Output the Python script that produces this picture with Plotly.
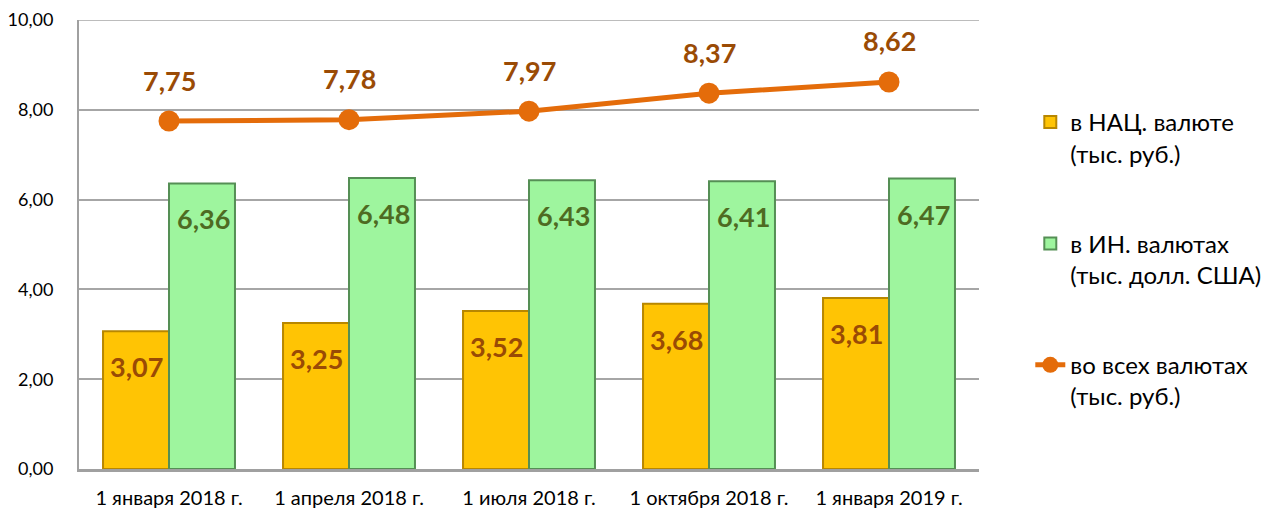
import plotly.graph_objects as go

dates = ["1 января 2018 г.", "1 апреля 2018 г.", "1 июля 2018 г.",
         "1 октября 2018 г.", "1 января 2019 г."]
nat = [3.07, 3.25, 3.52, 3.68, 3.81]
foreign = [6.36, 6.48, 6.43, 6.41, 6.47]
total = [7.75, 7.78, 7.97, 8.37, 8.62]

names = ["в НАЦ. валюте<br>(тыс. руб.)",
         "в ИН. валютах<br>(тыс. долл. США)",
         "во всех валютах<br>(тыс. руб.)"]

FONT = "Lato"
Y_MAX = 10
fig = go.Figure()

fig.add_bar(x=dates, y=nat, name=names[0], legendgroup="a",
            marker=dict(color="#FFC404", line=dict(color="#B88700", width=2)))
fig.add_bar(x=dates, y=foreign, name=names[1], legendgroup="b",
            marker=dict(color="#9EF59E", line=dict(color="#558F55", width=2)))
fig.add_scatter(x=dates, y=total, name=names[2], legendgroup="c",
                mode="lines+markers",
                line=dict(color="#E46C0A", width=5),
                marker=dict(color="#E46C0A", size=21))

# data labels
for d, v in zip(dates, nat):
    fig.add_annotation(x=d, y=v, text=f"{v:.2f}".replace(".", ","), showarrow=False,
                       xshift=-33, yshift=-17, yanchor="top",
                       font=dict(family=FONT, size=27, color="#9A4B05", weight="bold"))
for d, v in zip(dates, foreign):
    fig.add_annotation(x=d, y=v, text=f"{v:.2f}".replace(".", ","), showarrow=False,
                       xshift=34, yshift=-17, yanchor="top",
                       font=dict(family=FONT, size=27, color="#4E6B22", weight="bold"))
for d, v in zip(dates, total):
    fig.add_annotation(x=d, y=v, text=f"{v:.2f}".replace(".", ","), showarrow=False,
                       yshift=41, yanchor="middle",
                       font=dict(family=FONT, size=27, color="#9A4B05", weight="bold"))

# top gridline gets clipped at the range edge, draw it again
fig.add_hline(y=Y_MAX, line=dict(color="#A6A6A6", width=1.5), layer="below")

# page body has an 8px margin, so the figure is a bit smaller than the window
fig.update_layout(
    width=1270, height=502,
    margin=dict(l=71, r=299, t=12, b=41, autoexpand=False),
    paper_bgcolor="white", plot_bgcolor="white",
    separators=", ",
    barmode="group", bargap=0.267, bargroupgap=0,
    font=dict(family=FONT, size=18, color="#000000"),
    legend=dict(x=1.057, y=0.822, xanchor="left", yanchor="top",
                font=dict(family=FONT, size=24), tracegroupgap=56,
                traceorder="grouped", valign="top"),
)
fig.update_xaxes(showline=True, linecolor="#A0A0A0", linewidth=3,
                 ticklabelstandoff=9, tickfont=dict(size=20))
fig.update_yaxes(range=[0, Y_MAX], dtick=2, tickformat=".2f",
                 showgrid=True, gridcolor="#A6A6A6", gridwidth=1.5,
                 showline=True, linecolor="#A0A0A0", linewidth=2,
                 zeroline=False, ticklabelstandoff=20, tickfont=dict(size=18))

fig.write_html("out.html")
